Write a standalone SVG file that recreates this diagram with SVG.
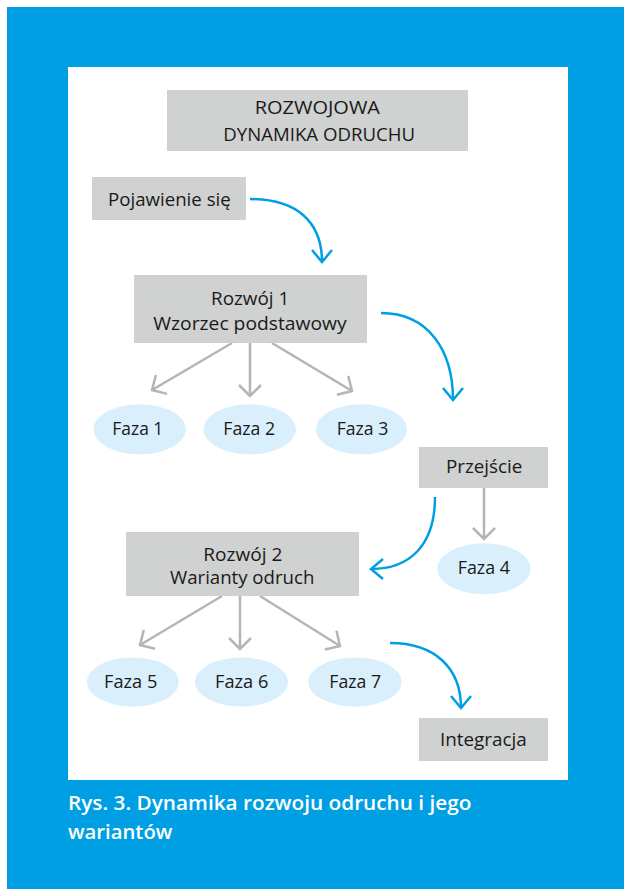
<svg xmlns="http://www.w3.org/2000/svg" width="624" height="889" viewBox="0 0 624 889">
  <style>
    .box { fill: #D0D1D1; }
    .ell { fill: #D9EFFB; }
    .t { font-family: "Open Sans", "Liberation Sans", sans-serif; font-size: 17.5px; fill: #1a1a1a; }
    .f { font-family: "Open Sans", "Liberation Sans", sans-serif; font-size: 18px; fill: #1a1a1a; }
    .cap { font-family: "Open Sans", "Liberation Sans", sans-serif; font-size: 19px; font-weight: 600; fill: #ffffff; }
    .g { fill: none; stroke: #B5B5B5; stroke-width: 2.5; }
    .b { fill: none; stroke: #009FE3; stroke-width: 2.5; }
  </style>
  <defs>
    <marker id="ag" markerUnits="userSpaceOnUse" viewBox="-14 -14 16 28" markerWidth="16" markerHeight="28" refX="0" refY="0" orient="auto">
      <path d="M-11,-11 L0,0 L-11,11" fill="none" stroke="#B5B5B5" stroke-width="2.5" stroke-linejoin="miter"/>
    </marker>
    <marker id="ab" markerUnits="userSpaceOnUse" viewBox="-14 -14 16 28" markerWidth="16" markerHeight="28" refX="0" refY="0" orient="auto">
      <path d="M-12,-10 L0,0 L-12,10" fill="none" stroke="#009FE3" stroke-width="2.5" stroke-linejoin="miter"/>
    </marker>
  </defs>

  <rect x="0" y="0" width="624" height="889" fill="#ffffff"/>
  <rect x="7" y="7" width="617" height="882" fill="#009FE3"/>
  <rect x="68" y="67" width="500" height="713" fill="#ffffff"/>

  <g id="connectors">
    <path class="b" d="M250,199 C297,199 322,222 322,262" marker-end="url(#ab)"/>
    <line class="g" x1="232" y1="343" x2="152" y2="390" marker-end="url(#ag)"/>
    <line class="g" x1="250" y1="343" x2="250" y2="396" marker-end="url(#ag)"/>
    <line class="g" x1="272" y1="343" x2="352" y2="391" marker-end="url(#ag)"/>
    <path class="b" d="M381,313 C428,313 453,350 453,400" marker-end="url(#ab)"/>
    <line class="g" x1="484" y1="488" x2="484" y2="539" marker-end="url(#ag)"/>
    <path class="b" d="M435,497 C435,545 410,569 371,569" marker-end="url(#ab)"/>
    <line class="g" x1="222" y1="596" x2="140" y2="645" marker-end="url(#ag)"/>
    <line class="g" x1="240" y1="596" x2="240" y2="649" marker-end="url(#ag)"/>
    <line class="g" x1="260" y1="596" x2="340" y2="646" marker-end="url(#ag)"/>
    <path class="b" d="M390,643 C435,643 461,668 461,708" marker-end="url(#ab)"/>
  </g>

  <g id="title">
    <rect class="box" x="167" y="90" width="301" height="61"/>
    <text class="t" x="254.7" y="114" textLength="125.3" lengthAdjust="spacingAndGlyphs">ROZWOJOWA</text>
    <text class="t" x="223.3" y="140.7" textLength="191.7" lengthAdjust="spacingAndGlyphs">DYNAMIKA ODRUCHU</text>
  </g>
  <g id="pojawienie">
    <rect class="box" x="92" y="177" width="154" height="43"/>
    <text class="t" x="108" y="205.7" textLength="122.7" lengthAdjust="spacingAndGlyphs">Pojawienie się</text>
  </g>
  <g id="rozwoj1">
    <rect class="box" x="134" y="275" width="233" height="68"/>
    <text class="t" x="211" y="305" textLength="78.3" lengthAdjust="spacingAndGlyphs">Rozwój 1</text>
    <text class="t" x="153.3" y="330" textLength="193.3" lengthAdjust="spacingAndGlyphs">Wzorzec podstawowy</text>
  </g>
  <g id="faza1">
    <ellipse class="ell" cx="139.7" cy="429.3" rx="46.3" ry="25"/>
    <text class="f" x="112.3" y="435" textLength="51" lengthAdjust="spacingAndGlyphs">Faza 1</text>
  </g>
  <g id="faza2">
    <ellipse class="ell" cx="249.7" cy="429.3" rx="46.3" ry="25"/>
    <text class="f" x="223.3" y="435" textLength="51.7" lengthAdjust="spacingAndGlyphs">Faza 2</text>
  </g>
  <g id="faza3">
    <ellipse class="ell" cx="361.5" cy="429.3" rx="45.5" ry="25"/>
    <text class="f" x="336.7" y="435" textLength="51.6" lengthAdjust="spacingAndGlyphs">Faza 3</text>
  </g>
  <g id="przejscie">
    <rect class="box" x="419" y="447" width="129" height="41"/>
    <text class="t" x="446" y="473.3" textLength="76.3" lengthAdjust="spacingAndGlyphs">Przejście</text>
  </g>
  <g id="faza4">
    <ellipse class="ell" cx="484" cy="568.8" rx="46.7" ry="25.5"/>
    <text class="f" x="457.7" y="574" textLength="52.3" lengthAdjust="spacingAndGlyphs">Faza 4</text>
  </g>
  <g id="rozwoj2">
    <rect class="box" x="126" y="532" width="233" height="64"/>
    <text class="t" x="203.3" y="560.7" textLength="79" lengthAdjust="spacingAndGlyphs">Rozwój 2</text>
    <text class="t" x="170" y="584" textLength="144.3" lengthAdjust="spacingAndGlyphs">Warianty odruch</text>
  </g>
  <g id="faza5">
    <ellipse class="ell" cx="132.8" cy="682" rx="46" ry="24.5"/>
    <text class="f" x="104" y="688" textLength="53.3" lengthAdjust="spacingAndGlyphs">Faza 5</text>
  </g>
  <g id="faza6">
    <ellipse class="ell" cx="241.5" cy="682" rx="46.5" ry="24.5"/>
    <text class="f" x="215" y="688" textLength="53.3" lengthAdjust="spacingAndGlyphs">Faza 6</text>
  </g>
  <g id="faza7">
    <ellipse class="ell" cx="355" cy="682" rx="46.7" ry="24.5"/>
    <text class="f" x="329.3" y="688" textLength="51.7" lengthAdjust="spacingAndGlyphs">Faza 7</text>
  </g>
  <g id="integracja">
    <rect class="box" x="419" y="718" width="129" height="43"/>
    <text class="t" x="440" y="745.5" textLength="86.7" lengthAdjust="spacingAndGlyphs">Integracja</text>
  </g>

  <g id="caption">
    <text class="cap" x="68" y="810" textLength="403.5" lengthAdjust="spacingAndGlyphs">Rys. 3. Dynamika rozwoju odruchu i jego</text>
    <text class="cap" x="68" y="839" textLength="104.3" lengthAdjust="spacingAndGlyphs">wariantów</text>
  </g>
</svg>
